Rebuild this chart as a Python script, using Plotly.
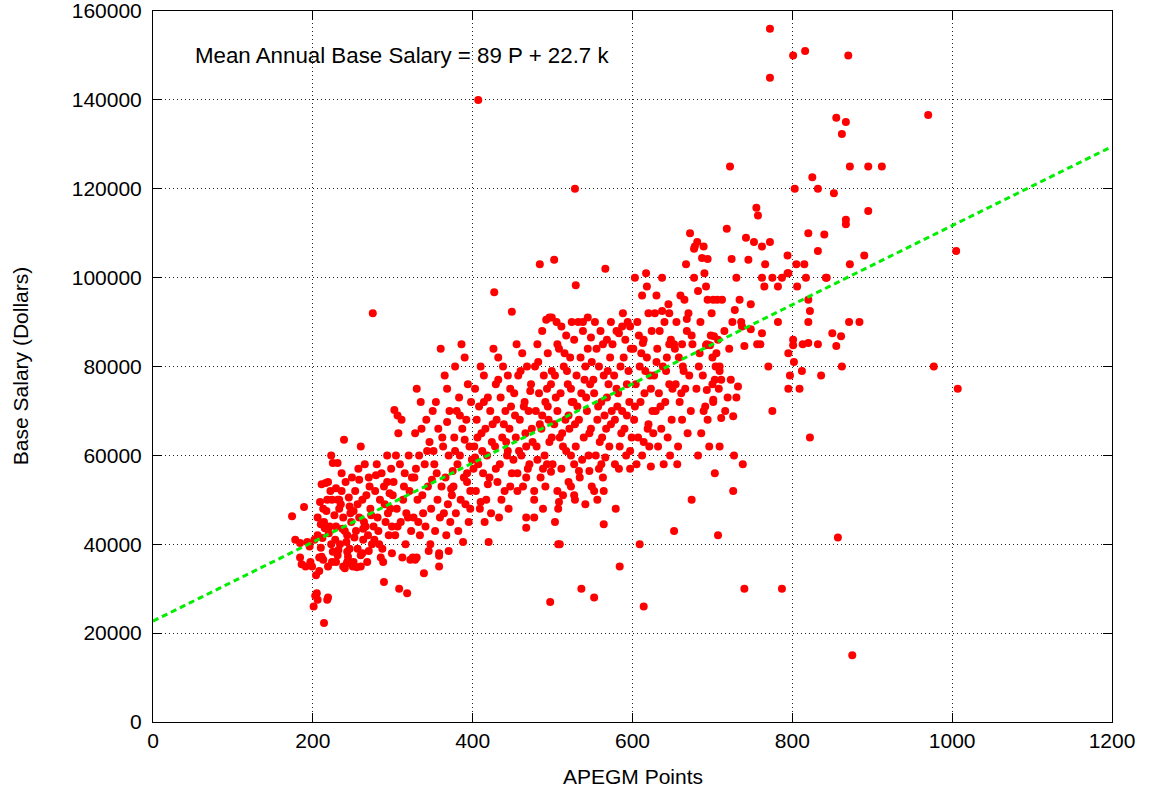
import plotly.graph_objects as go

# ---- data: (APEGM points, base salary $), grouped by x range ----
group_170_250 = [
    (174,46300),(178,41000),(184,40300),(189,48400),(184,37000),(191,35000),(199,35000),(197,36000),(196,39500),(193,40500),(186,35500),
    (201,26000),(203,28400),(205,29000),(206,27500),(214,22300),(208,37000),(211,37200),(210,39200),(212,41400),(208,34000),(219,35000),
    (214,45000),(206,46000),(206,42000),(209,49500),(216,53800),(219,54000),(219,28000),(218,27500),(211,53500),(223,60000),(225,58300),
    (215,43600),(223,40000),(225,38300),(204,33000),(213,36500),(221,44000),(217,47500),(222,52000),(202,41000),(218,50000),(224,50000),
    (213,48000),(220,42500),(224,36000),(210,44500),
    (229,52600),(231,58300),(231,50000),(233,50000),(233,48000),(229,44000),(238,46000),(228,41000),(234,40000),(243,42000),(232,38700),
    (243,38300),(229,36000),(238,35000),(243,35700),(244,37200),(239,63500),(236,56000),(241,54000),(247,47000),(240,43000),(246,39000),
    (240,34600),(243,36000),(248,45000),(235,49000),(227,46500),(245,50500),(249,55000),(237,43500),(231,37500),(242,40500),(246,48500),(236,52000),
]
group_250_350 = [
    (250,35000),(251,36000),(260,37500),(262,38000),(268,36000),(260,35000),(255,34800),(265,58000),(257,57000),(270,55000),(253,52000),
    (262,50000),(272,48000),(258,46000),(266,44000),(254,43000),(269,42000),(263,41000),(274,40000),(256,39000),(260,62000),(271,53000),
    (251,47500),(264,45000),(275,92000),(258,54500),(267,51000),(273,46500),(252,41500),(270,38500),(256,49000),(263,43500),
    (289,31500),(288,36000),(299,38000),(280,58000),(286,56000),(293,54000),(278,52000),(284,50000),(297,48000),(281,46000),(291,45000),
    (276,44000),(295,42000),(283,40000),(287,39000),(298,57000),(293,60000),(279,55500),(290,49000),(296,51500),(282,43000),(294,47000),
    (277,41000),(285,37000),(299,44000),(289,53000),
    (302,70200),(306,69000),(311,68000),(308,30000),(318,29000),(304,60000),(309,58000),(315,56000),(301,54000),(321,52000),(313,50000),
    (305,48000),(319,46000),(310,45000),(323,43000),(303,42000),(316,40000),(312,37000),(307,65000),(320,60000),(324,55000),(317,47000),
    (322,36500),(300,51000),(314,53000),(306,44000),
    (325,37000),(330,37000),(328,36500),(339,33500),(330,75000),(335,72000),(342,68000),(328,65000),(346,63000),(333,60000),(340,58000),
    (327,55000),(344,53000),(337,51000),(331,50000),(348,48000),(326,46000),(341,44000),(334,42000),(347,40000),(329,57000),(343,61000),
    (338,47000),(349,54500),(332,45000),(345,38500),(336,66000),(350,70000),
]
group_350_450 = [
    (358,38000),(358,37400),(358,35000),(360,84000),(365,78000),(368,75000),(354,72000),(371,70000),(357,66000),(363,62000),(370,60000),
    (352,58000),(366,55000),(361,53000),(374,51000),(356,50000),(369,49000),(364,47000),(372,45000),(353,43000),(367,42000),(370,38500),
    (362,64000),(355,56000),(373,52500),(359,46000),(368,67500),(351,61000),
    (386,85000),(390,82000),(378,80000),(394,76000),(383,73000),(398,72000),(380,70000),(392,68000),(387,66000),(377,64000),(396,62000),
    (384,60000),(381,58000),(393,56000),(389,55000),(376,53000),(397,52000),(385,50000),(391,49000),(379,47000),(395,45000),(382,43000),
    (388,40500),(399,59000),(375,56500),(390,63500),(384,69000),(397,48000),(378,61000),(393,54000),
    (407,140000),(410,80000),(414,78000),(403,75000),(419,73000),(408,71000),(422,70000),(405,68000),(416,66000),(411,65000),(424,63000),
    (402,62000),(418,60000),(407,58000),(413,56000),(421,55000),(404,52000),(417,50000),(409,48000),(423,47000),(415,45000),(420,40500),
    (406,64000),(412,61000),(425,67000),(401,57000),(419,53500),(410,49500),(414,72000),(403,59500),
    (427,96700),(426,84000),(432,82000),(438,80000),(444,78000),(429,76000),(447,75000),(435,73000),(441,70000),(430,68000),(446,66000),
    (437,64000),(428,62000),(443,60000),(434,58000),(449,56000),(431,54000),(440,52000),(436,50000),(445,48000),(433,46000),(448,71000),
    (439,67000),(442,63000),(429,57000),(447,53000),(432,77000),(444,61000),
]
group_450_550 = [
    (449,92300),(455,85000),(462,83000),(468,80000),(457,78000),(473,76000),(452,74000),(465,72000),(470,70000),(459,68000),(474,66000),
    (454,64000),(467,62000),(461,60000),(471,58000),(456,56000),(467,55000),(463,53000),(477,50000),(467,46000),(467,43700),(460,79000),
    (472,74500),(453,69000),(466,65000),(458,61000),(469,57000),(451,59000),(475,63000),(464,71000),(456,52000),
    (484,103000),(502,104000),(496,91000),(492,90500),(487,88000),(481,85000),(494,83000),(478,80000),(489,78000),(498,76000),(483,74000),
    (491,72000),(479,70000),(495,68000),(486,66000),(499,64000),(480,62000),(490,60000),(493,58000),(498,56300),(485,55000),(477,52000),
    (488,48000),(477,46000),(503,45000),(497,27000),(482,81000),(493,75000),(487,69000),(496,63000),(481,59000),(494,71000),(488,57000),
    (499,79000),(484,67000),(491,53000),
    (505,90000),(511,89000),(517,87000),(508,84000),(522,82000),(514,80000),(503,78000),(519,76000),(510,74000),(524,72000),(506,70000),
    (516,68000),(521,66000),(509,64000),(513,62000),(523,60000),(500,58000),(533,56500),(506,52000),(513,51000),(508,49500),(507,48000),
    (507,40000),(509,40000),(518,79000),(504,73000),(520,69000),(512,65000),(517,61000),(502,67000),(523,75000),(511,57000),(520,54000),
    (515,83000),(506,85000),(499,91000),(524,90000),
    (528,120000),(529,98300),(532,90000),(538,88000),(527,86000),(544,84000),(535,82000),(541,80000),(530,78000),(547,76000),(536,74000),
    (526,72000),(543,70000),(533,68000),(548,66000),(539,64000),(529,62000),(545,60000),(527,58000),(546,56500),(523,53000),(527,51000),
    (528,50000),(541,49000),(536,30000),(549,53000),(534,55000),(540,77000),(531,71000),(546,65000),(537,59000),(542,73000),(528,67000),
    (549,81000),(544,91000),(548,86500),(538,90000),
]
group_550_650 = [
    (566,102000),(553,90000),(560,88000),(568,86000),(555,84000),(572,82000),(558,80000),(564,78000),(570,76000),(552,74000),(561,72000),
    (574,70000),(556,68000),(567,66000),(562,64000),(571,62000),(554,60000),(561,58000),(566,59500),(563,55000),(552,52000),(564,52000),
    (556,50000),(552,28000),(564,44500),(569,79000),(557,71000),(573,67000),(559,63000),(568,73000),(551,77000),(575,85000),(565,69000),
    (558,57000),(573,90000),(563,85000),
    (583,57000),(597,57000),(579,48000),(584,35000),(588,92000),(594,90000),(580,88000),(591,86000),(598,84000),(585,80000),(577,78000),
    (593,76000),(582,74000),(596,72000),(587,70000),(578,68000),(590,66000),(599,64000),(584,62000),(592,60000),(578,58000),(589,82000),
    (595,79000),(581,71000),(586,65000),(597,61000),(580,75000),(593,69000),(587,89000),(597,89000),(583,87500),
    (617,101000),(623,57500),(609,40000),(614,26000),(603,100000),(612,96000),(620,92000),(606,90000),(624,88000),(614,86000),(601,84000),
    (618,82000),(609,80000),(622,78000),(604,76000),(615,74000),(610,72000),(625,70000),(602,68000),(619,66000),(607,64000),(621,62000),
    (612,60000),(605,58000),(616,79000),(611,83000),(623,75000),(603,71000),(608,87000),(620,67000),(614,63000),(618,98000),(613,85300),
    (637,100000),(630,96000),(645,94000),(628,92000),(640,90000),(634,88000),(648,86000),(631,84000),(643,82000),(638,80000),(627,78000),
    (646,76000),(633,74000),(641,72000),(629,70000),(649,68000),(636,66000),(644,64000),(632,62000),(647,60000),(639,58000),(642,79000),
    (630,81000),(646,85000),(635,71000),(626,65000),(650,75000),(637,92500),(646,92000),
]
group_650_750 = [
    (672,110000),(681,108000),(677,106500),(667,103000),(677,100000),(656,58000),(674,50000),(652,43000),(660,96000),(665,95000),(670,92000),
    (655,90000),(668,88000),(675,85000),(658,82000),(663,80000),(671,78000),(654,76000),(666,75000),(659,72000),(673,70000),(662,68000),
    (669,65000),(657,62000),(664,79000),(674,87000),(653,84000),(661,74000),(668,90700),(652,85000),(662,85000),(682,97000),
    (678,107000),(689,107000),(687,104400),(694,104200),(690,101000),(692,98000),(694,95000),(701,95000),(706,95000),(699,92000),(685,90000),
    (702,86800),(707,86000),(692,84800),(697,84800),(700,82000),(683,80000),(688,78000),(680,75000),(693,74700),(701,72500),(691,71000),
    (694,68000),(686,65000),(696,62000),(682,60000),(703,56000),(698,87000),(684,83000),(689,70000),(704,80000),(693,85000),
    (718,111000),(724,104200),(712,95000),(728,92700),(725,90000),(721,84000),(709,80000),(709,79000),(703,77000),(711,77000),(723,77000),
    (708,75000),(701,72000),(711,68400),(726,68800),(709,62000),(727,60000),(707,42000),(726,52000),(722,125000),(700,76000),(715,88000),
    (719,73000),(705,83000),(716,70000),
    (742,109000),(734,95000),(748,94000),(736,90000),(737,89000),(748,88400),(740,84600),(730,100000),(730,73000),(732,75500),(738,58000),
    (740,30000),(745,104000),
]
group_750_plus = [
    (772,156000),(772,145000),(755,115700),(757,114000),(752,108000),(762,107000),(772,108000),(766,103000),(762,100000),(775,100000),
    (765,98000),(762,87500),(756,85000),(760,85000),(775,70000),(770,80000),
    (782,98000),(787,100000),(795,101000),(794,105000),(794,101000),(782,90000),(795,83000),(797,78000),(795,75000),(787,30000),
    (801,150000),(816,151000),(803,120000),(825,122600),(820,110000),(805,103000),(815,103000),(817,100000),(806,98000),(820,95000),
    (822,92500),(820,90000),(801,86000),(801,84800),(813,85000),(820,85300),(802,81000),(812,79000),(809,75000),(822,64000),
    (832,120000),(840,109700),(832,106000),(842,100000),(843,100000),(832,85000),(836,78000),(850,87500),
    (855,136000),(867,135000),(862,132300),(870,150000),(872,125000),(852,119000),(867,113000),(867,112000),(872,103000),(871,90000),
    (861,86800),(855,84600),(862,80000),(857,41500),(875,15000),
    (895,125000),(912,125000),(895,115000),(890,105000),(884,90000),(970,136600),(977,80000),(1005,106000),(1007,75000),
]

fit_slope = 89          # dollars per point
fit_intercept = 22700   # dollars
fit_x_range = [0, 1200]

x_ticks = [0, 200, 400, 600, 800, 1000, 1200]
y_ticks = [0, 20000, 40000, 60000, 80000, 100000, 120000, 140000, 160000]

all_points = (group_170_250 + group_250_350 + group_350_450 + group_450_550
              + group_550_650 + group_650_750 + group_750_plus)
px = [p[0] for p in all_points]
py = [p[1] for p in all_points]
fit_y = [fit_slope * x + fit_intercept for x in fit_x_range]

FONT = "Liberation Sans, Arial, sans-serif"

fig = go.Figure()
fig.add_trace(go.Scatter(x=px, y=py, mode="markers",
                         marker=dict(color="#ff0000", size=8, line=dict(width=0)),
                         showlegend=False, hoverinfo="x+y"))
fig.add_trace(go.Scatter(x=fit_x_range, y=fit_y, mode="lines",
                         line=dict(color="#00ee00", width=3, dash="6px,4px"),
                         showlegend=False))

axis_common = dict(
    showline=True, linecolor="black", linewidth=1, mirror="ticks",
    ticks="inside", ticklen=9, tickcolor="black", tickwidth=1,
    showgrid=True, gridcolor="#222222", gridwidth=1, griddash="1px,3px",
    zeroline=False, tickfont=dict(family=FONT, size=21, color="black"),
    ticklabeloverflow="allow",
)
fig.update_xaxes(range=[0, 1200], tickvals=x_ticks, ticktext=[str(v) for v in x_ticks], **axis_common)
fig.update_yaxes(range=[0, 160000], tickvals=y_ticks, ticktext=[str(v) for v in y_ticks],
                 ticklabelstandoff=6, **axis_common)

fig.update_layout(
    width=1151, height=798,
    margin=dict(l=153, r=39, t=11, b=76, autoexpand=False),
    paper_bgcolor="white", plot_bgcolor="white",
    font=dict(family=FONT, size=21, color="black"),
    annotations=[
        dict(text="Mean Annual Base Salary = 89 P + 22.7 k", xref="paper", yref="paper",
             x=0.0415, y=0.937, xanchor="left", yanchor="middle", showarrow=False,
             font=dict(family=FONT, size=22.3, color="black")),
        dict(text="APEGM Points", xref="paper", yref="paper", x=0.5, y=-0.077,
             xanchor="center", yanchor="middle", showarrow=False,
             font=dict(family=FONT, size=21, color="black")),
        dict(text="Base Salary (Dollars)", xref="paper", yref="paper", x=-0.138, y=0.5,
             xanchor="center", yanchor="middle", textangle=-90, showarrow=False,
             font=dict(family=FONT, size=21, color="black")),
    ],
)

fig.write_html("out.html")
